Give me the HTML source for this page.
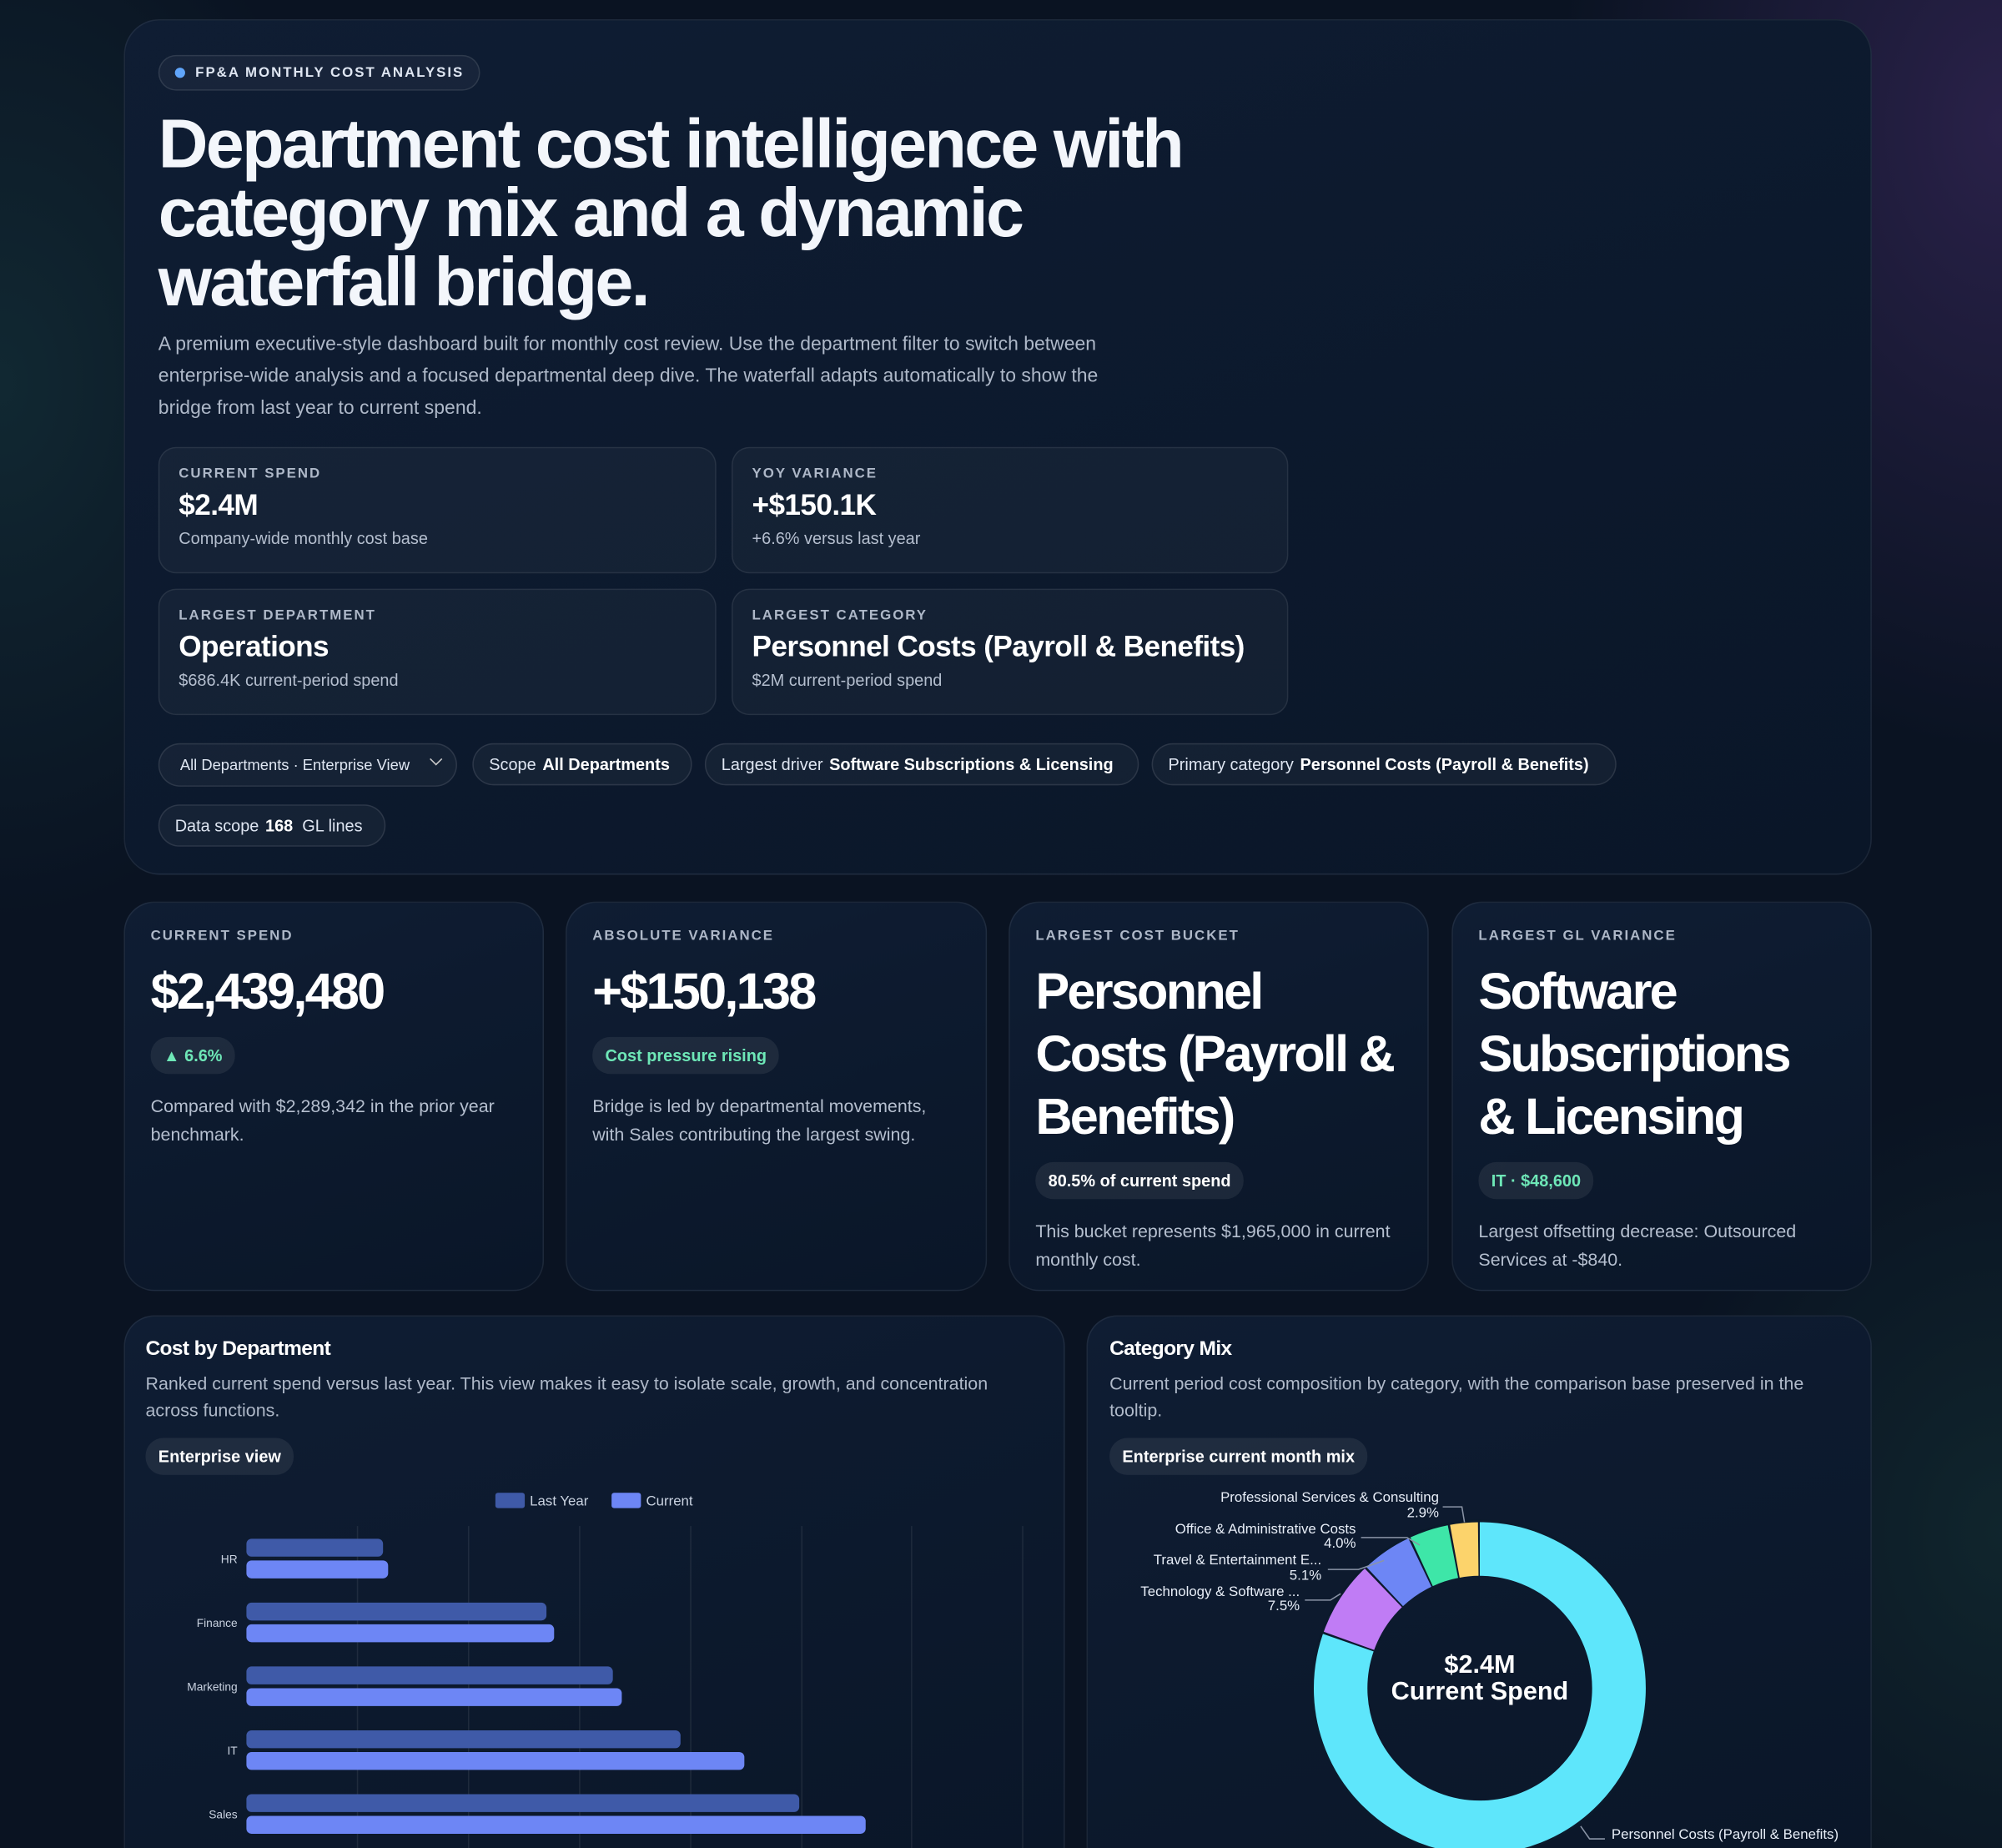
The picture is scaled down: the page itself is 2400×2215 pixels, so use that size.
<!DOCTYPE html>
<html><head><meta charset="utf-8">
<style>
html,body{margin:0;padding:0;width:2400px;height:2215px;overflow:hidden;background:#0a1322;}
#w{width:1568px;height:1448px;transform:scale(1.5306);transform-origin:0 0;position:relative;font-family:"Liberation Sans",sans-serif;color:#e8eef8;
background:radial-gradient(ellipse 500px 700px at 1568px 100px,rgba(80,50,120,.45),transparent 70%),radial-gradient(ellipse 400px 600px at 0px 300px,rgba(30,80,80,.35),transparent 70%),radial-gradient(ellipse 400px 500px at 1568px 1200px,rgba(30,80,70,.3),transparent 70%),#0a1322;}
.card{position:absolute;background:linear-gradient(160deg,#0f1d33,#0a1628);border:1px solid rgba(255,255,255,.07);border-radius:24px;box-sizing:border-box;}
.abs{position:absolute;}
.pill{position:absolute;border:1px solid rgba(255,255,255,.1);background:rgba(255,255,255,.04);border-radius:17px;box-sizing:border-box;font-size:13px;color:#dfe6f2;line-height:31px;padding:0 12px;white-space:nowrap}
.pill b{color:#fff;margin-left:5px}
.stat{position:absolute;background:rgba(255,255,255,.035);border:1px solid rgba(255,255,255,.08);border-radius:14px;box-sizing:border-box;padding:14px 15px}
.lab{font-size:11px;font-weight:bold;letter-spacing:1.3px;color:#aeb8c8}
.stat .v{font-size:23px;font-weight:bold;color:#fff;margin-top:5px;letter-spacing:-.4px}
.stat .s{font-size:13px;color:#b5bfcf;margin-top:5px}
.kpi{padding:20px 20px;}
.kpi .v{font-size:40px;font-weight:bold;color:#fff;letter-spacing:-1.8px;line-height:49px;margin-top:14px;white-space:nowrap}
.tag{display:inline-block;border-radius:14px;background:rgba(255,255,255,.07);font-size:13px;font-weight:bold;padding:0 10px;line-height:29px;margin-top:10px}
.kpi .d{font-size:14px;color:#b5bfcf;line-height:22px;margin-top:14px}
</style></head><body><div id="w">
<div class="card" style="left:97px;top:15px;width:1369px;height:670px;border-radius:28px;">
 <div class="pill" style="left:26px;top:27px;height:28px;line-height:26px;font-size:11px;font-weight:bold;letter-spacing:1.3px;padding-left:28px;color:#dfe6f2">
  <span class="abs" style="left:12px;top:9px;width:8px;height:8px;border-radius:50%;background:#60a5fa"></span>FP&amp;A MONTHLY COST ANALYSIS</div>
 <div class="abs" style="left:26px;top:70px;font-size:54px;font-weight:bold;line-height:54px;letter-spacing:-1.8px;color:#f3f6fb;width:850px">Department cost intelligence with category mix and a dynamic waterfall bridge.</div>
 <div class="abs" style="left:26px;top:241px;width:770px;font-size:15px;line-height:25px;color:#aeb8c8">A premium executive-style dashboard built for monthly cost review. Use the department filter to switch between enterprise-wide analysis and a focused departmental deep dive. The waterfall adapts automatically to show the bridge from last year to current spend.</div>
 <div class="stat" style="left:26px;top:334px;width:437px;height:99px"><div class="lab">CURRENT SPEND</div><div class="v">$2.4M</div><div class="s">Company-wide monthly cost base</div></div>
 <div class="stat" style="left:475px;top:334px;width:436px;height:99px"><div class="lab">YOY VARIANCE</div><div class="v">+$150.1K</div><div class="s">+6.6% versus last year</div></div>
 <div class="stat" style="left:26px;top:445px;width:437px;height:99px"><div class="lab">LARGEST DEPARTMENT</div><div class="v">Operations</div><div class="s">$686.4K current-period spend</div></div>
 <div class="stat" style="left:475px;top:445px;width:436px;height:99px"><div class="lab">LARGEST CATEGORY</div><div class="v">Personnel Costs (Payroll &amp; Benefits)</div><div class="s">$2M current-period spend</div></div>
 <div class="pill" style="left:26px;top:566px;width:234px;height:34px;font-size:12px;line-height:32px;padding-left:16px">All Departments · Enterprise View<span class="abs" style="right:12px;top:8px;width:6px;height:6px;border-right:1.5px solid #ccc;border-bottom:1.5px solid #ccc;transform:rotate(45deg)"></span></div>
 <div class="pill" style="left:272px;top:566px;width:172px;height:33px">Scope<b>All Departments</b></div>
 <div class="pill" style="left:454px;top:566px;width:340px;height:33px">Largest driver<b>Software Subscriptions &amp; Licensing</b></div>
 <div class="pill" style="left:804px;top:566px;width:364px;height:33px">Primary category<b>Personnel Costs (Payroll &amp; Benefits)</b></div>
 <div class="pill" style="left:26px;top:614px;width:178px;height:33px">Data scope<b>168</b>&nbsp; GL lines</div>
</div>

<div class="card kpi" style="left:97px;top:706px;width:329px;height:305px"><div class="lab">CURRENT SPEND</div><div class="v">$2,439,480</div><div class="tag" style="color:#6ee7b7">▲ 6.6%</div><div class="d">Compared with $2,289,342 in the prior year benchmark.</div></div>
<div class="card kpi" style="left:443px;top:706px;width:330px;height:305px"><div class="lab">ABSOLUTE VARIANCE</div><div class="v">+$150,138</div><div class="tag" style="color:#6ee7b7">Cost pressure rising</div><div class="d">Bridge is led by departmental movements, with Sales contributing the largest swing.</div></div>
<div class="card kpi" style="left:790px;top:706px;width:329px;height:305px"><div class="lab">LARGEST COST BUCKET</div><div class="v">Personnel<br>Costs (Payroll &amp;<br>Benefits)</div><div class="tag" style="color:#fff">80.5% of current spend</div><div class="d">This bucket represents $1,965,000 in current monthly cost.</div></div>
<div class="card kpi" style="left:1137px;top:706px;width:329px;height:305px"><div class="lab">LARGEST GL VARIANCE</div><div class="v">Software<br>Subscriptions<br>&amp; Licensing</div><div class="tag" style="color:#6ee7b7">IT · $48,600</div><div class="d">Largest offsetting decrease: Outsourced Services at -$840.</div></div>

<div class="card" style="left:97px;top:1030px;width:737px;height:440px">
 <div class="abs" style="left:16px;top:17px;font-size:16px;font-weight:bold;color:#fff;letter-spacing:-.4px">Cost by Department</div>
 <div class="abs" style="left:16px;top:42px;width:700px;font-size:14px;line-height:21px;color:#aeb8c8">Ranked current spend versus last year. This view makes it easy to isolate scale, growth, and concentration across functions.</div>
 <div class="tag abs" style="left:16px;top:95px;margin:0;color:#fff">Enterprise view</div>
</div>
<svg class="abs" style="left:0;top:0" width="1568" height="1448">
 <g stroke="rgba(255,255,255,.08)"><line x1="280" y1="1195" x2="280" y2="1448"/><line x1="367" y1="1195" x2="367" y2="1448"/><line x1="454" y1="1195" x2="454" y2="1448"/><line x1="541" y1="1195" x2="541" y2="1448"/><line x1="628" y1="1195" x2="628" y2="1448"/><line x1="714" y1="1195" x2="714" y2="1448"/><line x1="801" y1="1195" x2="801" y2="1448"/></g>
 <rect x="388" y="1169" width="23" height="12" rx="2" fill="#3f5aa8"/><text x="415" y="1179" font-size="11" fill="#c9d2e0" font-family="Liberation Sans">Last Year</text>
 <rect x="479" y="1169" width="23" height="12" rx="2" fill="#6d86f5"/><text x="506" y="1179" font-size="11" fill="#c9d2e0" font-family="Liberation Sans">Current</text>
 <g font-size="9" fill="#c9d2e0" font-family="Liberation Sans" text-anchor="end">
 <text x="186" y="1224">HR</text><text x="186" y="1274">Finance</text><text x="186" y="1324">Marketing</text><text x="186" y="1374">IT</text><text x="186" y="1424">Sales</text></g>
 <g fill="#3f5aa8"><rect x="193" y="1205" width="107" height="14" rx="4"/><rect x="193" y="1255" width="235" height="14" rx="4"/><rect x="193" y="1305" width="287" height="14" rx="4"/><rect x="193" y="1355" width="340" height="14" rx="4"/><rect x="193" y="1405" width="433" height="14" rx="4"/></g>
 <g fill="#6d86f5"><rect x="193" y="1222" width="111" height="14" rx="4"/><rect x="193" y="1272" width="241" height="14" rx="4"/><rect x="193" y="1322" width="294" height="14" rx="4"/><rect x="193" y="1372" width="390" height="14" rx="4"/><rect x="193" y="1422" width="485" height="14" rx="4"/></g>
</svg>

<div class="card" style="left:851px;top:1030px;width:615px;height:440px">
 <div class="abs" style="left:17px;top:17px;font-size:16px;font-weight:bold;color:#fff;letter-spacing:-.4px">Category Mix</div>
 <div class="abs" style="left:17px;top:42px;width:585px;font-size:14px;line-height:21px;color:#aeb8c8">Current period cost composition by category, with the comparison base preserved in the tooltip.</div>
 <div class="tag abs" style="left:17px;top:95px;margin:0;color:#fff">Enterprise current month mix</div>
</div>
<svg class="abs" style="left:0;top:0" width="1568" height="1448">
 <g transform="rotate(-90 1159 1322)" fill="none" stroke-width="43">
  <circle cx="1159" cy="1322" r="109.5" stroke="#5ee6fb" stroke-dasharray="552.3 688"/>
  <circle cx="1159" cy="1322" r="109.5" stroke="#c07cf5" stroke-dasharray="50.1 688" stroke-dashoffset="-553.8"/>
  <circle cx="1159" cy="1322" r="109.5" stroke="#6d86f5" stroke-dasharray="33.6 688" stroke-dashoffset="-605.4"/>
  <circle cx="1159" cy="1322" r="109.5" stroke="#3ee6a8" stroke-dasharray="26 688" stroke-dashoffset="-640.5"/>
  <circle cx="1159" cy="1322" r="109.5" stroke="#fcd36b" stroke-dasharray="18.5 688" stroke-dashoffset="-668"/>
 </g>
 <circle cx="1159" cy="1322" r="131" fill="none" stroke="#0b1a2c" stroke-width="2"/>
 <text x="1159" y="1310" text-anchor="middle" font-size="20" font-weight="bold" fill="#fff" font-family="Liberation Sans">$2.4M</text>
 <text x="1159" y="1331" text-anchor="middle" font-size="20" font-weight="bold" fill="#fff" font-family="Liberation Sans">Current Spend</text>
 <g font-size="11" fill="#e8eef8" font-family="Liberation Sans" text-anchor="end">
  <text x="1127" y="1176">Professional Services &amp; Consulting</text><text x="1127" y="1188">2.9%</text>
  <text x="1062" y="1201">Office &amp; Administrative Costs</text><text x="1062" y="1212">4.0%</text>
  <text x="1035" y="1225">Travel &amp; Entertainment E...</text><text x="1035" y="1237">5.1%</text>
  <text x="1018" y="1250">Technology &amp; Software ...</text><text x="1018" y="1261">7.5%</text>
  <text x="1440" y="1440">Personnel Costs (Payroll &amp; Benefits)</text>
 </g>
 <g stroke="#8a94a6" fill="none" stroke-width="1"><polyline points="1130,1180 1145,1180 1147,1192"/><polyline points="1066,1204 1102,1204 1112,1210"/><polyline points="1040,1229 1064,1229 1084,1222"/><polyline points="1022,1253 1042,1253 1050,1248"/><polyline points="1257,1440 1245,1440 1238,1430"/></g>
</svg>
</div></body></html>
